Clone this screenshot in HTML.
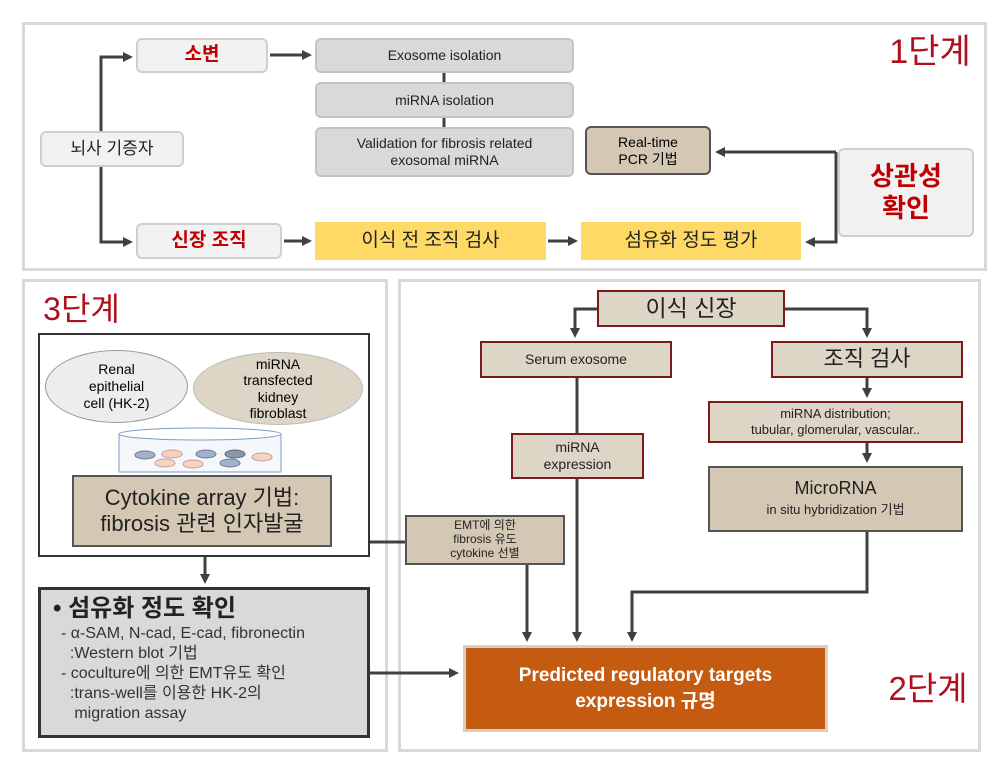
<!DOCTYPE html>
<html><head><meta charset="utf-8"><style>
body{margin:0;width:995px;height:766px;background:#fff;position:relative;overflow:hidden;font-family:"Liberation Sans","Noto Sans CJK KR",sans-serif;}
.b{position:absolute;box-sizing:border-box;display:flex;align-items:center;justify-content:center;text-align:center;line-height:1.2;}
.g{background:#d9d9d9;border:2px solid #c4c4c4;border-radius:6px;font-size:14px;color:#222;}
.w{background:#f2f2f2;border:2px solid #cfcfcf;border-radius:6px;}
.r{color:#c00000;font-weight:bold;font-size:19px;}
.y{background:#ffd966;font-size:19px;color:#222;}
.t{background:#ddd5c6;border:2px solid #7b1a1a;color:#222;}
.t2{background:#d4c8b4;border:2px solid #555;color:#222;}
svg{position:absolute;left:0;top:0;}
</style></head><body>
<div class="b" style="left:22px;top:22px;width:965px;height:249px;border:3px solid #d9d9d9;"></div>
<div class="b" style="left:22px;top:279px;width:366px;height:473px;border:3px solid #d9d9d9;"></div>
<div class="b" style="left:398px;top:279px;width:583px;height:473px;border:3px solid #d9d9d9;"></div>

<div class="b" style="left:880px;top:34px;width:100px;height:36px;color:#b0101e;font-size:34px;">1단계</div>
<div class="b w r" style="left:136px;top:38px;width:132px;height:35px;">소변</div>
<div class="b g" style="left:315px;top:38px;width:259px;height:35px;">Exosome isolation</div>
<div class="b g" style="left:315px;top:82px;width:259px;height:36px;">miRNA isolation</div>
<div class="b g" style="left:315px;top:127px;width:259px;height:50px;">Validation for fibrosis related<br>exosomal miRNA</div>
<div class="b" style="left:585px;top:126px;width:126px;height:49px;background:#d4c8b4;border:2px solid #555;border-radius:6px;font-size:14px;">Real-time<br>PCR 기법</div>
<div class="b w" style="left:838px;top:148px;width:136px;height:89px;color:#c00000;font-weight:bold;font-size:26px;">상관성<br>확인</div>
<div class="b w" style="left:40px;top:131px;width:144px;height:36px;font-size:17px;color:#222;">뇌사 기증자</div>
<div class="b w r" style="left:136px;top:223px;width:146px;height:36px;">신장 조직</div>
<div class="b y" style="left:315px;top:222px;width:231px;height:38px;">이식 전 조직 검사</div>
<div class="b y" style="left:581px;top:222px;width:220px;height:38px;">섬유화 정도 평가</div>

<div class="b" style="left:34px;top:291px;width:95px;height:36px;color:#b0101e;font-size:32px;">3단계</div>
<div class="b" style="left:38px;top:333px;width:332px;height:224px;border:2px solid #333;background:#fff;"></div>
<div class="b" style="left:45px;top:350px;width:143px;height:73px;border-radius:50%;background:#ededed;border:1px solid #999;font-size:14px;">Renal<br>epithelial<br>cell (HK-2)</div>
<div class="b" style="left:193px;top:352px;width:170px;height:73px;border-radius:50%;background:#ddd5c6;border:1px solid #bbb;font-size:14px;line-height:1.15;">miRNA<br>transfected<br>kidney<br>fibroblast</div>
<svg width="995" height="766">
<rect x="119" y="434" width="162" height="38" fill="#f4f8fc" stroke="#7f9cc0"/>
<ellipse cx="200" cy="434" rx="81" ry="6" fill="#fff" stroke="#7f9cc0"/>
<ellipse cx="145" cy="455" rx="10" ry="4" fill="#9fb4cc" stroke="#778"/>
<ellipse cx="172" cy="454" rx="10" ry="4" fill="#f5d5c0" stroke="#c99"/>
<ellipse cx="206" cy="454" rx="10" ry="4" fill="#9fb4cc" stroke="#778"/>
<ellipse cx="235" cy="454" rx="10" ry="4" fill="#8898aa" stroke="#667"/>
<ellipse cx="262" cy="457" rx="10" ry="4" fill="#f5d5c0" stroke="#c99"/>
<ellipse cx="165" cy="463" rx="10" ry="4" fill="#f5d5c0" stroke="#c99"/>
<ellipse cx="193" cy="464" rx="10" ry="4" fill="#f5d5c0" stroke="#c99"/>
<ellipse cx="230" cy="463" rx="10" ry="4" fill="#9fb4cc" stroke="#778"/>
</svg>
<div class="b t2" style="left:72px;top:475px;width:260px;height:72px;font-size:22px;">Cytokine array 기법:<br>fibrosis 관련 인자발굴</div>
<div class="b" style="left:38px;top:587px;width:332px;height:151px;background:#d9d9d9;border:3px solid #333;display:block;text-align:left;padding:4px 0 0 12px;font-size:16px;color:#333;line-height:1.25;">
<div style="font-size:24px;font-weight:bold;color:#222;margin-bottom:0px;">• 섬유화 정도 확인</div>
<div style="padding-left:8px">- α-SAM, N-cad, E-cad, fibronectin<br>&nbsp;&nbsp;:Western blot 기법<br>- coculture에 의한 EMT유도 확인<br>&nbsp;&nbsp;:trans-well를 이용한 HK-2의<br>&nbsp;&nbsp;&nbsp;migration assay</div></div>

<div class="b t" style="left:597px;top:290px;width:188px;height:37px;font-size:23px;">이식 신장</div>
<div class="b t" style="left:480px;top:341px;width:192px;height:37px;font-size:14px;">Serum exosome</div>
<div class="b t" style="left:771px;top:341px;width:192px;height:37px;font-size:22px;">조직 검사</div>
<div class="b t" style="left:708px;top:401px;width:255px;height:42px;font-size:13px;">miRNA distribution;<br>tubular, glomerular, vascular..</div>
<div class="b t" style="left:511px;top:433px;width:133px;height:46px;font-size:14px;">miRNA<br>expression</div>
<div class="b t2" style="left:708px;top:466px;width:255px;height:66px;font-size:18px;line-height:1.1;"><div>MicroRNA<br><span style="font-size:13px">in situ hybridization 기법</span></div></div>
<div class="b t2" style="left:405px;top:515px;width:160px;height:50px;font-size:12px;line-height:1.15;">EMT에 의한<br>fibrosis 유도<br>cytokine 선별</div>
<div class="b" style="left:463px;top:645px;width:365px;height:87px;background:#c55a11;border:3px solid #d6cfc4;color:#fff;font-weight:bold;font-size:19px;line-height:1.35;">Predicted regulatory targets<br>expression 규명</div>
<div class="b" style="left:878px;top:670px;width:100px;height:38px;color:#b0101e;font-size:33px;">2단계</div>

<svg width="995" height="766">
<defs><marker id="a" markerWidth="10" markerHeight="10" refX="7" refY="5" orient="auto" markerUnits="userSpaceOnUse"><path d="M0,0L10,5L0,10z" fill="#404040"/></marker></defs>
<g stroke="#404040" stroke-width="3" fill="none">
<path d="M101,131V57H130" marker-end="url(#a)"/>
<path d="M101,167V242H130" marker-end="url(#a)"/>
<path d="M270,55H309" marker-end="url(#a)"/>
<path d="M284,241H309" marker-end="url(#a)"/>
<path d="M548,241H575" marker-end="url(#a)"/>
<path d="M444,73V82M444,118V127"/>
<path d="M836,152H718" marker-end="url(#a)"/>
<path d="M836,152V242H808" marker-end="url(#a)"/>
<path d="M205,557V581" marker-end="url(#a)"/>
<path d="M370,673H456" marker-end="url(#a)"/>
<path d="M370,542H405"/>
<path d="M597,309H575V335" marker-end="url(#a)"/>
<path d="M785,309H867V335" marker-end="url(#a)"/>
<path d="M867,378V395" marker-end="url(#a)"/>
<path d="M867,443V460" marker-end="url(#a)"/>
<path d="M577,378V433"/>
<path d="M577,479V639" marker-end="url(#a)"/>
<path d="M527,565V639" marker-end="url(#a)"/>
<path d="M867,532V592H632V639" marker-end="url(#a)"/>
</g></svg>
</body></html>
